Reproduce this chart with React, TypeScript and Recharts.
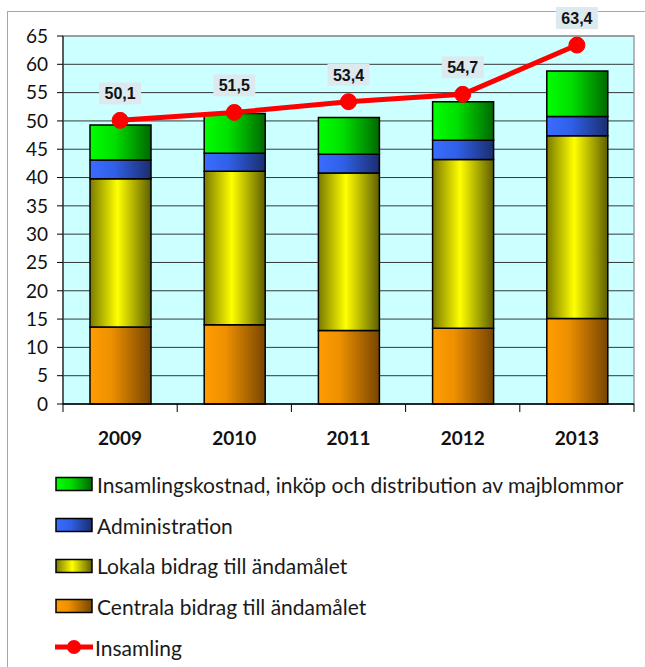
import {
  ComposedChart,
  Bar,
  Line,
  XAxis,
  YAxis,
  CartesianGrid,
  LabelList,
  Legend,
  ReferenceArea,
} from "recharts";

const YEARS = ["2009", "2010", "2011", "2012", "2013"];
const CENTRALA = [13.6, 14.0, 13.0, 13.4, 15.1];
const LOKALA = [26.2, 27.1, 27.8, 29.8, 32.3];
const ADMIN = [3.3, 3.2, 3.3, 3.4, 3.4];
const INSAMLINGSKOSTNAD = [6.2, 7.0, 6.5, 6.8, 8.0];
const INSAMLING = [50.1, 51.5, 53.4, 54.7, 63.4];
const Y_TICKS = [0, 5, 10, 15, 20, 25, 30, 35, 40, 45, 50, 55, 60, 65];

const data = YEARS.map((year, i) => ({
  year,
  centrala: CENTRALA[i],
  lokala: LOKALA[i],
  admin: ADMIN[i],
  kostnad: INSAMLINGSKOSTNAD[i],
  insamling: INSAMLING[i],
}));

const BAR_SERIES = [
  { key: "centrala", name: "Centrala bidrag till ändamålet", grad: "gOrange" },
  { key: "lokala", name: "Lokala bidrag till ändamålet", grad: "gYellow" },
  { key: "admin", name: "Administration", grad: "gBlue" },
  { key: "kostnad", name: "Insamlingskostnad, inköp och distribution av majblommor", grad: "gGreen" },
];

const W = 645;
const H = 667;
const PLOT_LEFT = 63;
const PLOT_RIGHT = 634;
const PLOT_TOP = 36;
const PLOT_BOTTOM = 404;
const X_AXIS_H = 50;
const BAND = (PLOT_RIGHT - PLOT_LEFT) / YEARS.length;
const FONT = "Lato, 'Open Sans', sans-serif";

const YearTick = (props: any) => {
  const { x, y, payload, index } = props;
  const axisY = y - 22;
  return (
    <g>
      <line x1={x - BAND / 2} x2={x - BAND / 2} y1={axisY} y2={axisY + 8} stroke="#000" />
      {index === YEARS.length - 1 && (
        <line x1={x + BAND / 2} x2={x + BAND / 2} y1={axisY} y2={axisY + 8} stroke="#000" />
      )}
      <text x={x} y={y + 19} textAnchor="middle" fontFamily={FONT} fontWeight="bold" fontSize={19} fill="#111">
        {payload.value}
      </text>
    </g>
  );
};

const ValueLabel = (props: any) => {
  const { x, y, value } = props;
  const txt = Number(value).toFixed(1).replace(".", ",");
  return (
    <g>
      <rect x={x - 21} y={y - 38} width={42} height={22} fill="#dce9ef" />
      <text
        x={x}
        y={y - 21}
        textAnchor="middle"
        fontFamily="'Liberation Sans Narrow', 'Liberation Sans', Arial, sans-serif"
        fontWeight="bold"
        fontSize={16}
        fill="#111"
      >
        {txt}
      </text>
    </g>
  );
};

const LegendContent = () => {
  const items = [...BAR_SERIES].reverse();
  return (
    <div style={{ fontFamily: FONT, fontSize: 21, color: "#1a1a1a", whiteSpace: "nowrap" }}>
      {items.map((s) => (
        <div key={s.key} style={{ display: "flex", alignItems: "center", height: 40.7 }}>
          <svg width={42} height={16}>
            <rect x={1} y={1.5} width={36} height={13} fill={`url(#${s.grad})`} stroke="#000" strokeWidth={1.5} />
          </svg>
          <span>{s.name}</span>
        </div>
      ))}
      <div style={{ display: "flex", alignItems: "center", height: 40.7 }}>
        <svg width={42} height={18}>
          <line x1={0} x2={38} y1={9} y2={9} stroke="#ff0000" strokeWidth={5} />
          <circle cx={19} cy={9} r={7} fill="#ff0000" />
        </svg>
        <span style={{ marginLeft: -2 }}>Insamling</span>
      </div>
    </div>
  );
};

export default function App() {
  return (
    <div style={{ position: "absolute", left: 0, top: 0, width: W, height: H, overflow: "hidden", background: "#fff" }}>
      <div
        style={{
          position: "absolute",
          left: 7,
          top: 11,
          width: W - 7,
          height: H - 11,
          borderTop: "1px solid #a6a6a6",
          borderLeft: "1px solid #a6a6a6",
        }}
      />
      <div style={{ position: "absolute", left: 0, top: 0 }}>
        <ComposedChart
          width={W}
          height={H}
          data={data}
          margin={{ top: PLOT_TOP, right: W - PLOT_RIGHT, left: 0, bottom: H - PLOT_BOTTOM - X_AXIS_H }}
        >
          <defs>
            <linearGradient id="gOrange" x1="0" y1="0" x2="1" y2="0">
              <stop offset="0%" stopColor="#ff9c00" />
              <stop offset="35%" stopColor="#ee9000" />
              <stop offset="100%" stopColor="#774500" />
            </linearGradient>
            <linearGradient id="gYellow" x1="0" y1="0" x2="1" y2="0">
              <stop offset="0%" stopColor="#7a7a00" />
              <stop offset="45%" stopColor="#ffff00" />
              <stop offset="100%" stopColor="#5e5e00" />
            </linearGradient>
            <linearGradient id="gBlue" x1="0" y1="0" x2="1" y2="0">
              <stop offset="0%" stopColor="#3a6cff" />
              <stop offset="40%" stopColor="#3060e8" />
              <stop offset="100%" stopColor="#1a2d6e" />
            </linearGradient>
            <linearGradient id="gGreen" x1="0" y1="0" x2="1" y2="0">
              <stop offset="0%" stopColor="#00ff00" />
              <stop offset="40%" stopColor="#00e000" />
              <stop offset="100%" stopColor="#006800" />
            </linearGradient>
          </defs>
          <CartesianGrid vertical={false} fill="#ccffff" stroke="#222" strokeOpacity={0.9} />
          <ReferenceArea y1={0} y2={65} fill="none" stroke="#a0a0a0" strokeWidth={1.5} ifOverflow="visible" />
          <XAxis
            dataKey="year"
            height={X_AXIS_H}
            tickLine={false}
            tickSize={8}
            tickMargin={14}
            axisLine={{ stroke: "#000", strokeWidth: 1.5 }}
            tick={<YearTick />}
            interval={0}
          />
          <YAxis
            width={PLOT_LEFT}
            domain={[0, 65]}
            ticks={Y_TICKS}
            interval={0}
            tickSize={6}
            tickMargin={9}
            axisLine={{ stroke: "#000" }}
            tickLine={{ stroke: "#000" }}
            tick={{ fontFamily: FONT, fontSize: 19, fill: "#111" }}
          />
          {BAR_SERIES.map((s) => (
            <Bar
              key={s.key}
              dataKey={s.key}
              name={s.name}
              stackId="a"
              barSize={61}
              fill={`url(#${s.grad})`}
              stroke="#000"
              strokeWidth={1.5}
              isAnimationActive={false}
            />
          ))}
          <Line
            dataKey="insamling"
            name="Insamling"
            stroke="#ff0000"
            strokeWidth={5}
            dot={{ r: 8, fill: "#ff0000", stroke: "#ff0000", strokeWidth: 1 }}
            activeDot={false}
            isAnimationActive={false}
          >
            <LabelList dataKey="insamling" content={<ValueLabel />} />
          </Line>
          <Legend
            layout="vertical"
            verticalAlign="middle"
            align="center"
            wrapperStyle={{ top: 464, left: 55, width: 590 }}
            content={<LegendContent />}
          />
        </ComposedChart>
      </div>
    </div>
  );
}
